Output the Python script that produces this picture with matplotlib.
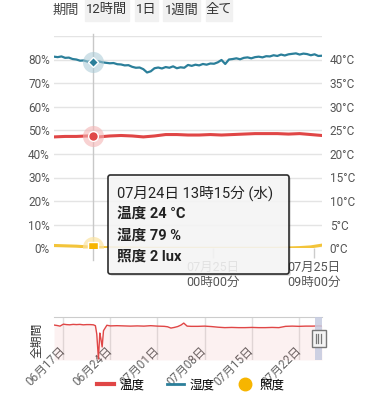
import numpy as np
import matplotlib
matplotlib.use('Agg')
import matplotlib.pyplot as plt
from matplotlib.lines import Line2D
from matplotlib.patches import Rectangle, FancyBboxPatch
import matplotlib.transforms as mtransforms

plt.rcParams['font.family'] = ['Roboto', 'Noto Sans CJK JP', 'DejaVu Sans']

# ---- data -------------------------------------------------------------
period_label = '期間'
period_buttons = ['12時間', '1日', '1週間', '全て']

# main chart: hours since 07/24 09:45, humidity every 20 minutes
hum_hours = np.arange(0, 24 + 1e-9, 1 / 3)
humidity = [81.2, 81.0, 81.3, 80.7, 80.8, 80.2, 80.0, 79.5, 79.6, 79.1,
            79.2, 78.8, 79.2, 78.8, 78.6, 78.4, 78.5, 78.0, 77.9, 77.5,
            77.6, 76.9, 76.5, 76.6, 75.9, 74.5, 75.0, 76.3, 76.6, 76.2,
            76.8, 76.5, 77.1, 76.3, 76.7, 76.5, 77.7, 77.3, 77.8, 77.5,
            78.1, 77.8, 78.3, 78.2, 78.8, 79.8, 78.1, 80.0, 80.2, 80.5,
            80.1, 80.7, 80.9, 80.5, 81.0, 81.2, 80.9, 81.4, 81.3, 81.8,
            81.5, 82.1, 81.7, 82.2, 82.4, 82.6, 82.1, 82.5, 82.3, 81.8,
            82.2, 81.5, 81.6]

# temperature and illuminance every hour
hourly = np.arange(0, 25)
temperature = [23.6, 23.7, 23.7, 23.8, 23.6, 23.8, 23.9, 23.8, 23.6, 23.8,
               24.1, 24.1, 24.0, 24.0, 24.1, 24.0, 24.1, 24.2, 24.3, 24.3,
               24.3, 24.2, 24.3, 24.1, 23.9]
lux = [8, 7, 6, 4, 2, 2, 1, 1, 0, 0, 0, 0, 0, 0, 0, 0, 0, 0, 0, 0,
       0, 1, 2, 4, 9]

cursor_hour = 3.5
tooltip_title = '07月24日 13時15分 (水)'
tooltip_rows = ['温度 24 °C', '湿度 79 %', '照度 2 lux']

xtick_hours = [14.25, 23.25]
xtick_labels = ['07月25日\n00時00分', '07月25日\n09時00分']
hum_ticks = list(range(0, 91, 10))
temp_ticks = list(range(0, 46, 5))

# navigator: days since 06/17, temperature over the whole period
nav_days = [-1.34, -0.9, -0.45, 0.05, 0.5, 1.0, 1.5, 2.0, 2.5, 3.0, 3.5,
            4.0, 4.5, 4.8, 5.0, 5.25, 5.45, 5.6, 5.8, 6.0, 6.5, 7, 8, 9,
            10, 11, 12, 13, 14, 15, 15.5, 16, 16.5, 17, 17.5, 17.9, 18.4,
            19, 20, 21, 22, 23, 24, 25, 26, 27, 28, 29, 30, 31, 32, 33, 34,
            35, 36, 37, 38, 38.4]
nav_temp = [24.1, 23.9, 23.6, 24.5, 24.3, 24.2, 24.4, 24.3, 24.4, 24.2,
            24.3, 24.3, 24.2, 23.8, 20.0, 8.5, 20.4, 18.0, 14.0, 21.5,
            24.0, 23.7, 23.8, 23.7, 23.6, 23.7, 23.6, 23.8, 23.6, 23.5,
            23.3, 22.7, 23.0, 23.4, 24.1, 25.0, 23.6, 23.5, 23.5, 23.6,
            23.4, 23.1, 22.9, 23.0, 22.9, 22.9, 23.0, 22.9, 22.9, 23.0,
            22.9, 23.5, 23.6, 23.5, 23.6, 23.6, 23.7, 23.6]
nav_tick_days = [0, 7, 14, 21, 28, 35]
nav_tick_labels = ['06月17日', '06月24日', '07月01日', '07月08日', '07月15日', '07月22日']
selected_days = (37.4, 38.4)

legend_labels = ['温度', '湿度', '照度']

RED = '#e04646'
TEAL = '#2b7f9a'
YELLOW = '#f3c43a'
GOLD = '#f7b500'
W, H = 382, 400


def fx(px):
    return px / W


def fy(py):
    return 1 - py / H


fig = plt.figure(figsize=(W / 100, H / 100), dpi=100)

# ---- period buttons ---------------------------------------------------
fig.text(fx(66), fy(10), period_label, ha='center', va='center',
         fontsize=9.5, color='#444444')
btn_x = [(85, 129), (135, 158), (163, 200), (206, 232)]
for (x0, x1), lab in zip(btn_x, period_buttons):
    fig.patches.append(Rectangle((fx(x0), fy(21)), fx(x1 - x0), 21 / H,
                                 transform=fig.transFigure, color='#f1f1f1', zorder=1))
    fig.text(fx((x0 + x1) / 2), fy(10), lab, ha='center', va='center',
             fontsize=9.5, color='#333333', zorder=2)

# ---- main chart -------------------------------------------------------
ax = fig.add_axes([fx(54), fy(248.3), fx(268), 212.4 / H])
ax.set_xlim(0, 24)
ax.set_ylim(0, 90)
ax.set_yticks(hum_ticks)
ax.set_yticklabels([f'{v}%' for v in hum_ticks[:-1]] + [''])
ax.grid(axis='y', color='#e4e4e4', lw=1)
ax.set_axisbelow(True)
for s in ax.spines.values():
    s.set_visible(False)
ax.tick_params(axis='y', length=0, pad=3, labelsize=8.5, labelcolor='#555555')
ax.set_xticks(xtick_hours)
ax.set_xticklabels(xtick_labels)
ax.tick_params(axis='x', length=7, width=1, color='#cccccc', pad=2,
               labelsize=9, labelcolor='#555555')

ax.axvline(cursor_hour, ymin=-0.055, ymax=1.01, color='#c8c8c8', lw=1,
           clip_on=False, zorder=1)

ax.plot(hum_hours, humidity, color=TEAL, lw=1.6, zorder=3)

ax2 = ax.twinx()
ax2.set_ylim(0, 45)
ax2.set_yticks(temp_ticks)
ax2.set_yticklabels([f'{v}°C' for v in temp_ticks[:-1]] + [''])
for s in ax2.spines.values():
    s.set_visible(False)
ax2.tick_params(axis='y', length=0, pad=5.5, labelsize=8.5, labelcolor='#555555')
ax2.plot(hourly, temperature, color=RED, lw=2.2, zorder=3)

ax3 = ax.twinx()
ax3.set_ylim(0, 600)
ax3.axis('off')
ax3.plot(hourly, lux, color=YELLOW, lw=2.2, zorder=3)

# cursor markers
h_c = np.interp(cursor_hour, hum_hours, humidity)
t_c = np.interp(cursor_hour, hourly, temperature)
l_c = np.interp(cursor_hour, hourly, lux)
ax3.scatter([cursor_hour], [l_c], s=230, color='#fbe3a0', alpha=0.7, lw=0, zorder=4)
ax3.plot([cursor_hour], [l_c], marker='s', ms=7, color=GOLD, mec='white', mew=1, zorder=5)
ax3.scatter([cursor_hour], [h_c * 600 / 90], s=230, color='#a8cad6', alpha=0.55, lw=0, zorder=4)
ax3.plot([cursor_hour], [h_c * 600 / 90], marker='D', ms=5.5, color=TEAL, mec='white', mew=1, zorder=5)
ax3.scatter([cursor_hour], [t_c * 600 / 45], s=230, color='#f4b4b4', alpha=0.6, lw=0, zorder=4)
ax3.plot([cursor_hour], [t_c * 600 / 45], marker='o', ms=7, color=RED, mec='white', mew=1, zorder=5)

# ---- tooltip ----------------------------------------------------------
fig.patches.append(FancyBboxPatch((fx(110), fy(276)), fx(181), 99 / H,
                                  boxstyle='round,pad=0,rounding_size=0.006',
                                  transform=fig.transFigure, fc='#000000', ec='none',
                                  alpha=0.12, zorder=5))
fig.patches.append(FancyBboxPatch((fx(108), fy(274)), fx(181), 99 / H,
                                  boxstyle='round,pad=0,rounding_size=0.006',
                                  transform=fig.transFigure, fc='#f8f8f8', ec='#111111',
                                  lw=1.2, alpha=0.88, zorder=6))
fig.text(fx(117), fy(193), tooltip_title, ha='left', va='center',
         fontsize=10.5, color='#222222', zorder=7)
for i, row in enumerate(tooltip_rows):
    fig.text(fx(117), fy(214 + 21.5 * i), row, ha='left', va='center',
             fontsize=10.5, fontweight='bold', color='#222222', zorder=7)

# ---- navigator --------------------------------------------------------
nav = fig.add_axes([fx(54), fy(360), fx(268), 43 / H])
nav.set_xlim(nav_days[0], nav_days[-1])
nav.set_ylim(8, 27.8)
nav.plot(nav_days, nav_temp, color=RED, lw=1, zorder=3)
nav.fill_between(nav_days, nav_temp, 8, color=RED, alpha=0.07, lw=0, zorder=2)
nav.axvspan(*selected_days, color='#c5cbe0', alpha=0.85, lw=0, zorder=4)
nav.set_yticks([])
nav.set_xticks(nav_tick_days)
nav.set_xticklabels(nav_tick_labels, rotation=45, ha='right', va='center',
                    rotation_mode='anchor')
nav.tick_params(axis='x', length=0, pad=-8, labelsize=8.5, labelcolor='#666666')
nav.grid(axis='x', color='#e0e0e0', lw=1)
nav.set_axisbelow(True)
for k in ['left', 'right', 'bottom']:
    nav.spines[k].set_visible(False)
nav.spines['top'].set_color('#cccccc')

# navigator handle
blend = mtransforms.blended_transform_factory(nav.transData, nav.transAxes)
hx = sum(selected_days) / 2
nav.add_patch(Rectangle((hx - 1.05, 0.31), 2.1, 0.39, transform=blend, fc='#f4f4f4',
                        ec='#777777', lw=1, zorder=6, clip_on=False))
for dx in (-0.45, -0.1, 0.35):
    nav.plot([hx + dx, hx + dx], [0.4, 0.61], transform=blend, color='#777777',
             lw=0.9, zorder=7, clip_on=False)

fig.text(fx(37), fy(340), '全期間', rotation=90, ha='center', va='center',
         fontsize=8.5, color='#333333')

# ---- legend -----------------------------------------------------------
handles = [Line2D([], [], color=RED, lw=3),
           Line2D([], [], color=TEAL, lw=2),
           Line2D([], [], color=GOLD, lw=0, marker='o', ms=9)]
fig.legend(handles, legend_labels, loc='center', bbox_to_anchor=(0.5, fy(385)),
           ncol=3, frameon=False, fontsize=9, handlelength=1.3,
           handletextpad=0.5, columnspacing=1.8)

fig.savefig('out.png', dpi=100)
